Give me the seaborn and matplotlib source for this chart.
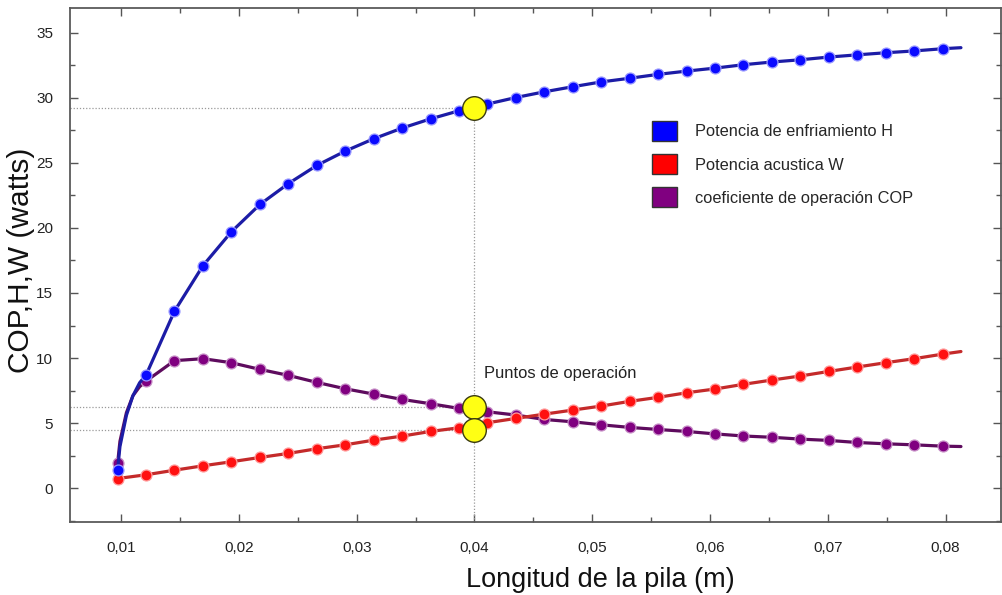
import numpy as np
import pandas as pd
import matplotlib
matplotlib.use("Agg")
import matplotlib.pyplot as plt
from matplotlib.patches import Patch
from matplotlib.ticker import MultipleLocator, FixedLocator, FuncFormatter
import seaborn as sns

# ---------------- data ----------------
x_pts = [0.00970, 0.01212, 0.01453, 0.01695, 0.01936, 0.02178, 0.02419, 0.02661,
         0.02902, 0.03144, 0.03385, 0.03627, 0.03868, 0.04110, 0.04351, 0.04593,
         0.04834, 0.05076, 0.05317, 0.05559, 0.05800, 0.06042, 0.06283, 0.06525,
         0.06766, 0.07008, 0.07249, 0.07491, 0.07732, 0.07974]

H = [1.4, 8.7, 13.6, 17.1, 19.7, 21.8, 23.4, 24.8, 25.9, 26.85, 27.67, 28.38,
     29.0, 29.52, 30.02, 30.46, 30.85, 31.22, 31.5, 31.8, 32.05, 32.28, 32.54,
     32.75, 32.92, 33.13, 33.3, 33.46, 33.6, 33.77]

W = [0.74, 1.03, 1.38, 1.72, 2.03, 2.36, 2.67, 3.03, 3.33, 3.69, 4.0, 4.36,
     4.64, 5.03, 5.36, 5.69, 6.0, 6.31, 6.67, 6.98, 7.33, 7.62, 7.98, 8.31,
     8.62, 8.97, 9.31, 9.64, 9.95, 10.3]

COP = [1.9, 8.23, 9.8, 9.95, 9.64, 9.13, 8.67, 8.13, 7.64, 7.23, 6.82, 6.49,
       6.13, 5.87, 5.62, 5.28, 5.1, 4.87, 4.67, 4.51, 4.36, 4.17, 4.01, 3.91,
       3.77, 3.67, 3.51, 3.41, 3.33, 3.23]

# extra points read along the steep start of the curves (no markers there)
x_head = [0.0099, 0.01045, 0.0110, 0.01157]
H_head = [3.2, 5.6, 7.1, 8.1]
COP_head = [3.6, 5.8, 7.1, 7.8]
# end of the drawn lines (beyond the last marker)
x_tail = 0.0813
H_tail, W_tail, COP_tail = 33.85, 10.5, 3.2

# operating points
op_x = 0.04
op_H, op_COP, op_W = 29.2, 6.2, 4.45

x_ticks = [0.01, 0.02, 0.03, 0.04, 0.05, 0.06, 0.07, 0.08]
y_ticks = [0, 5, 10, 15, 20, 25, 30, 35]

labels = ["Potencia de enfriamiento H", "Potencia acustica W",
          "coeficiente de operación COP"]

# ---------------- style ----------------
sns.set_theme(style="ticks")
plt.rcParams["font.family"] = ["Liberation Sans", "DejaVu Sans"]

fig = plt.figure(figsize=(10.02, 5.95), dpi=100)
ax = fig.add_axes([70 / 1002, 1 - 522 / 595, 931 / 1002, 514 / 595])

xlim = (0.00566, 0.0847)
ylim = (-2.6, 36.9)

# line data
xH_line = [x_pts[0]] + x_head + x_pts[1:] + [x_tail]
H_line = [H[0]] + H_head + H[1:] + [H_tail]
xC_line = [x_pts[0]] + x_head + x_pts[1:] + [x_tail]
C_line = [COP[0]] + COP_head + COP[1:] + [COP_tail]
xW_line = x_pts + [x_tail]
W_line = W + [W_tail]

series = [
    (xC_line, C_line, COP, "#5e0b5e", "#800080", "#c78fc7", 3),
    (xW_line, W_line, W, "#c42a2a", "#ff1010", "#ff9a9a", 4),
    (xH_line, H_line, H, "#1c1ca6", "#0a0aff", "#9a9aff", 5),
]
for xl, yl, ym, lc, mc, ec, z in series:
    sns.lineplot(x=xl, y=yl, ax=ax, sort=False, estimator=None, color=lc,
                 lw=2.3, zorder=z)
    sns.scatterplot(x=x_pts, y=ym, ax=ax, color=mc, edgecolor=ec, linewidth=0.9,
                    s=62, zorder=z + 0.5, legend=False)

# dotted guide lines
gl = dict(color="#9a9a9a", lw=0.9, ls=(0, (1, 1.5)), zorder=1)
for yv in [op_H, op_COP, op_W]:
    ax.plot([xlim[0], op_x], [yv, yv], **gl)
ax.plot([op_x, op_x], [ylim[0], op_H], **gl)

# operating points
ax.plot([op_x] * 3, [op_H, op_COP, op_W], ls="none", marker="o", ms=17,
        mfc="#ffff14", mec="#3a3a10", mew=1.0, zorder=10)

ax.text(0.0408, 8.85, "Puntos de operación", fontsize=11.9, color="#222222",
        ha="left", va="center")

ax.set_xlim(*xlim)
ax.set_ylim(*ylim)
ax.xaxis.set_major_locator(FixedLocator(x_ticks))
ax.xaxis.set_minor_locator(MultipleLocator(0.005))
ax.yaxis.set_major_locator(FixedLocator(y_ticks))
ax.yaxis.set_minor_locator(MultipleLocator(2.5))
ax.xaxis.set_major_formatter(FuncFormatter(lambda v, p: f"{v:.2f}".replace(".", ",")))
ax.yaxis.set_major_formatter(FuncFormatter(lambda v, p: f"{v:.0f}"))

ax.tick_params(which="both", direction="in", top=True, right=True,
               color="#555555", width=1.0, labelsize=11, labelcolor="#222222")
ax.tick_params(which="major", length=6, pad=12)
ax.tick_params(axis="x", which="major", pad=14)
ax.tick_params(which="minor", length=3.5)
for s in ax.spines.values():
    s.set_color("#5a5a5a")
    s.set_linewidth(1.3)
    s.set_visible(True)

ax.set_xlabel("Longitud de la pila (m)", fontsize=19.5, color="#111111")
ax.set_ylabel("COP,H,W (watts)", fontsize=21.5, color="#111111")
ax.xaxis.set_label_coords(0.570, -0.088)
ax.yaxis.set_label_coords(-0.038, 0.51)

# legend
handles = [Patch(facecolor=c, edgecolor="#333333", lw=1.0)
           for c in ["#0000ff", "#ff0000", "#800080"]]
ax.legend(handles, labels, loc="upper left", bbox_to_anchor=(652 / 1002, 1 - 121 / 595),
          bbox_transform=fig.transFigure, frameon=False, fontsize=11.8,
          handlelength=1.5, handleheight=1.5, handletextpad=1.1,
          labelspacing=0.8, borderpad=0, borderaxespad=0)

fig.savefig("out.png", dpi=100)
